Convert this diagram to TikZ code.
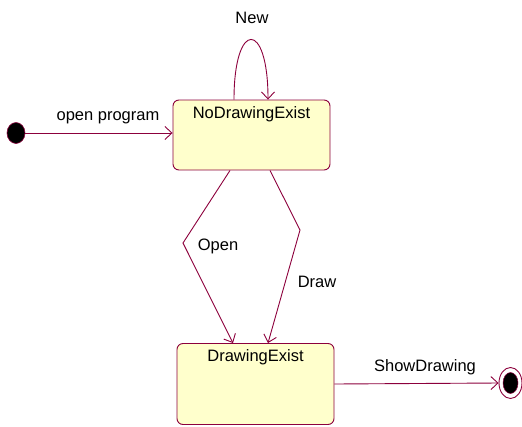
\documentclass[tikz,border=0pt]{standalone}
\usepackage{fontspec}
\setmainfont{Liberation Sans}
\usetikzlibrary{arrows.meta,calc,shapes.geometric}
\definecolor{umlline}{RGB}{140,0,60}
\definecolor{umlfill}{RGB}{255,255,204}
\tikzset{
  statebox/.style={draw=umlline, fill=umlfill, rounded corners=6pt, line width=0.9pt,
    minimum width=157pt, inner sep=0pt},
  tr/.style={draw=umlline, line width=0.9pt, -{Straight Barb[length=7pt,width=13pt,line width=0.9pt]}},
  lbl/.style={font=\fontsize{16.5}{19}\selectfont, inner sep=0pt},
}
\begin{document}
\begin{tikzpicture}[x=1pt,y=-1pt]
\useasboundingbox (0,0) rectangle (522,426);
% states
\node[statebox, minimum height=70pt] (nde) at (251.5,135) {};
\node[lbl, anchor=north] (ndet) at ($(nde.north)+(0,7)$) {NoDrawingExist};
\node[statebox, minimum height=81pt] (de) at (255.5,384) {};
\node[lbl, anchor=north] (det) at ($(de.north)+(0,6)$) {DrawingExist};
% initial and final
\node[draw=umlline, fill=black, ellipse, minimum width=18pt, minimum height=21pt, inner sep=0pt, line width=0.6pt] (init) at (16,133) {};
\node[draw=umlline, fill=white, ellipse, minimum width=23pt, minimum height=31pt, inner sep=0pt, line width=0.9pt] (fin) at (510.5,383) {};
\node[fill=black, draw=umlline, ellipse, minimum width=15pt, minimum height=21pt, inner sep=0pt, line width=0.5pt] (finin) at (fin.center) {};
% transitions
\draw[tr] (init.east) -- (init.east -| nde.west);
\node[lbl] (lop) at (108,118) {open program};
\draw[tr] ($(nde.north)+(-17.5,0)$) .. controls +(0,-80) and +(0,-80) .. ($(nde.north)+(16.5,0)$);
\node[lbl] (lnew) at (252,18) {New};
\coordinate (ob) at (183,243);
\coordinate (db) at (300,230);
\draw[tr] ($(nde.south)+(-21.5,0)$) -- (ob) -- ($(de.north)+(-22.5,0)$);
\draw[tr] ($(nde.south)+(18.5,0)$) -- (db) -- ($(de.north)+(12.5,0)$);
\node[lbl] (lopen) at (218,246) {Open};
\node[lbl] (ldraw) at (317,282) {Draw};
\draw[tr] (de.east) -- (fin.west);
\node[lbl] (lshow) at (425,367) {ShowDrawing};
\end{tikzpicture}
\end{document}
